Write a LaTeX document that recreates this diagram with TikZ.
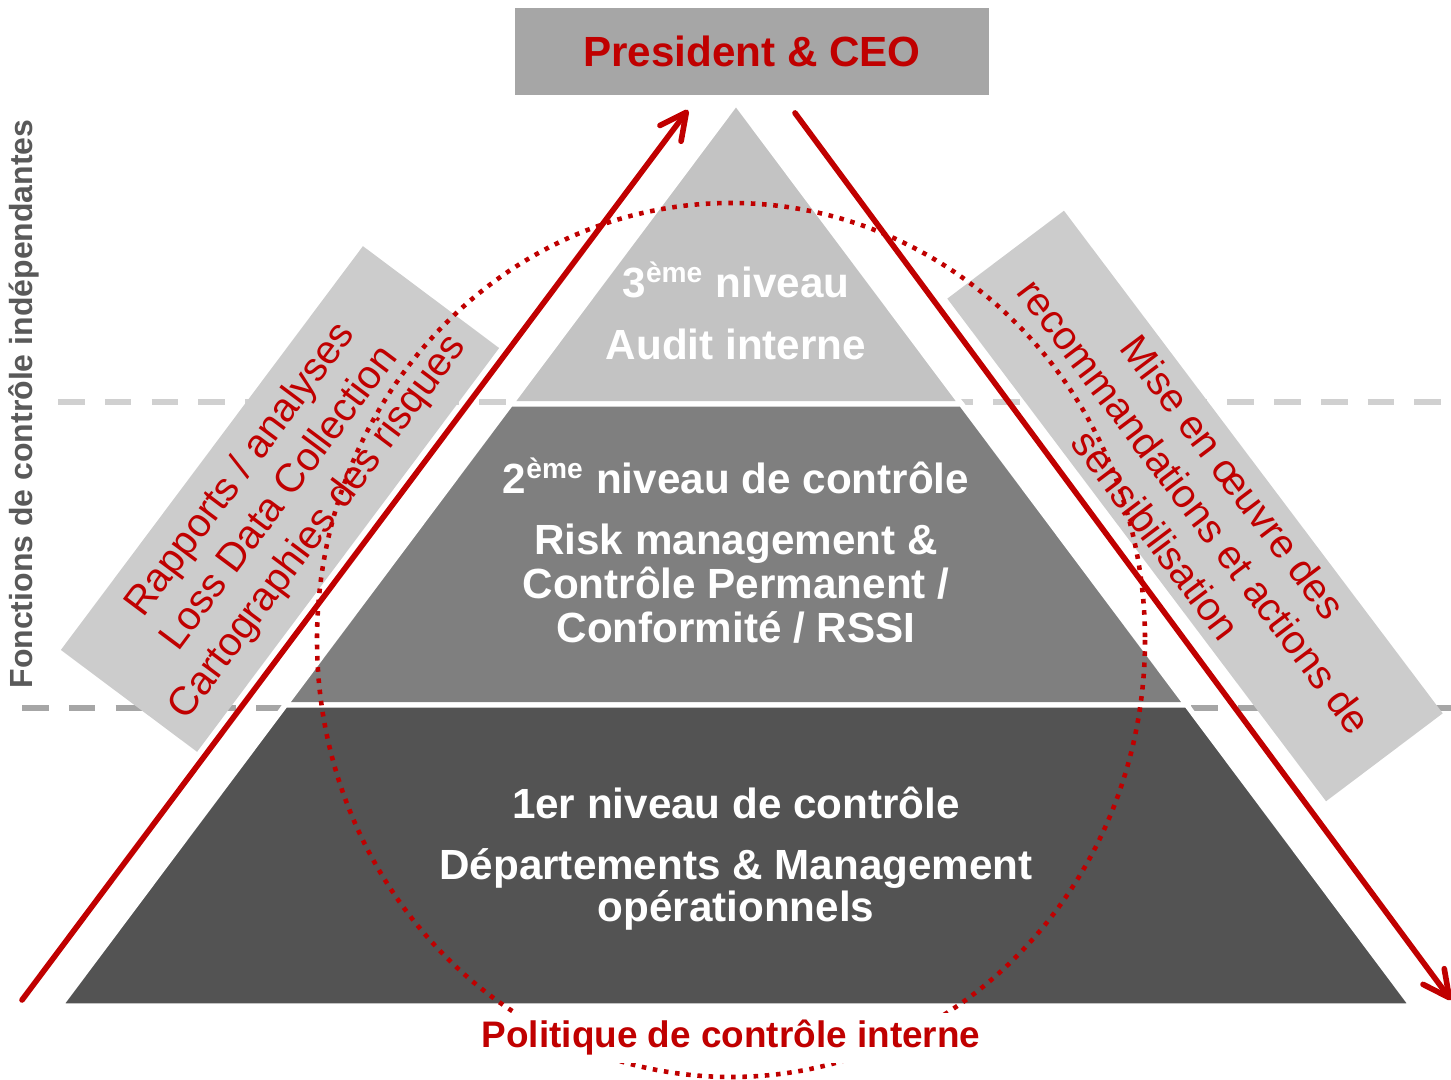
\documentclass[tikz,border=0pt]{standalone}
\usepackage{fontspec}
\setmainfont{Liberation Sans}
\usetikzlibrary{calc}
\usetikzlibrary{arrows.meta}

\definecolor{rouge}{HTML}{C00000}
\definecolor{grisceo}{HTML}{A6A6A6}
\definecolor{grisboite}{HTML}{CCCCCC}
\definecolor{niveautrois}{HTML}{C3C3C3}
\definecolor{niveaudeux}{HTML}{7F7F7F}
\definecolor{niveauun}{HTML}{535353}
\definecolor{tiretclair}{HTML}{D0D0D0}
\definecolor{tiretfonce}{HTML}{A6A6A6}
\definecolor{grisfonce}{HTML}{595959}

\begin{document}
\begin{tikzpicture}[x=0.01cm,y=-0.01cm,
    niveau/.style={text=white,anchor=base,font=\fontsize{12}{14}\selectfont\bfseries},
    boite/.style={fill=grisboite,inner sep=0pt,text=rouge,align=center,font=\fontsize{11.4}{13.7}\selectfont},
    fleche/.style={rouge,line width=1.6pt,line cap=round,-{Straight Barb[length=7.5pt,width=7.5pt,round]}},
    tiret/.style={line width=1.7pt,dash pattern=on 7.6pt off 5.7pt}]
    \useasboundingbox (0,0) rectangle (1451,1080);

    % 虚线
    \draw[tiret,tiretclair] (58,402) -- (1451,402);
    \draw[tiret,tiretfonce] (22,708) -- (1451,708);

    % 两侧的灰框
    \node[boite,rotate=53.2,minimum width=5.04cm,minimum height=1.7cm] (rapports) at (280,499)
        {Rapports / analyses\\Loss Data Collection\\Cartographies des risques};
    \node[boite,rotate=-53,minimum width=6.29cm,minimum height=1.46cm] (mise) at (1195,506)
        {Mise en œuvre des\\recommandations et actions de\\sensibilisation};

    % 金字塔
    \coordinate (sommet) at (736,103); % 顶点
    \coordinate (basg) at (60,1006);
    \coordinate (basd) at (1412,1006);
    \coordinate (g1) at ($(sommet)!0.3333!(basg)$);
    \coordinate (d1) at ($(sommet)!0.3333!(basd)$);
    \coordinate (g2) at ($(sommet)!0.6667!(basg)$);
    \coordinate (d2) at ($(sommet)!0.6667!(basd)$);
    \filldraw[fill=niveautrois,draw=white,line width=1.5pt] (sommet) -- (g1) -- (d1) -- cycle;
    \filldraw[fill=niveaudeux,draw=white,line width=1.5pt] (g1) -- (g2) -- (d2) -- (d1) -- cycle;
    \filldraw[fill=niveauun,draw=white,line width=1.5pt] (g2) -- (basg) -- (basd) -- (d2) -- cycle;

    \node[niveau] (n3titre) at (736,298) {3\textsuperscript{ème} niveau};
    \node[niveau] (n3) at (736,360) {Audit interne};
    \node[niveau] (n2titre) at (736,494) {2\textsuperscript{ème} niveau de contrôle};
    \node[niveau] (n2a) at (736,555) {Risk management \&};
    \node[niveau] (n2b) at (736,599) {Contrôle Permanent /};
    \node[niveau] (n2c) at (736,643) {Conformité / RSSI};
    \node[niveau] (n1titre) at (736,819) {1er niveau de contrôle};
    \node[niveau] (n1a) at (736,880) {Départements \& Management};
    \node[niveau] (n1b) at (736,922) {opérationnels};

    % 顶部
    \node[fill=grisceo,minimum width=4.74cm,minimum height=0.87cm,text=rouge,
        font=\fontsize{12}{14}\selectfont\bfseries] (ceo) at (752,51.5) {President \& CEO};

    % 红色箭头
    \coordinate (montee) at (22,1000);
    \coordinate (pointeg) at (688,110);
    \coordinate (descente) at (795,113);
    \coordinate (pointed) at (1451,1000);
    \draw[fleche] (montee) -- (pointeg);
    \draw[fleche] (descente) -- (pointed);

    % 点线椭圆
    \draw[rouge,line width=1.3pt,dash pattern=on 1.3pt off 1.9pt] (731,640) ellipse [x radius=414,y radius=437];

    \node[fill=white,anchor=base,text=rouge,inner xsep=2pt,inner ysep=2pt,
        font=\fontsize{10.5}{12}\selectfont\bfseries] (politique) at (731,1048) {Politique de contrôle interne};

    \node[rotate=90,text=grisfonce,font=\fontsize{9.1}{11}\selectfont\bfseries] (fonctions) at (24,404)
        {Fonctions de contrôle indépendantes};
\end{tikzpicture}
\end{document}
